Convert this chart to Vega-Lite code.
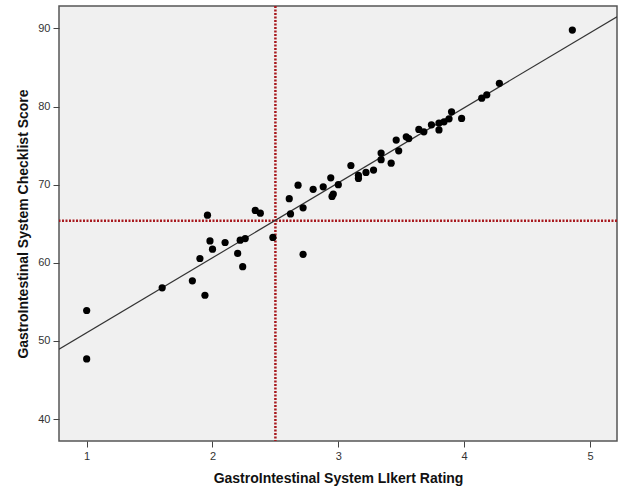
{
  "$schema": "https://vega.github.io/schema/vega-lite/v6.json",
  "autosize": {"type": "none"},
  "width": 558,
  "height": 435,
  "padding": {"left": 59, "top": 6, "right": 6, "bottom": 50},
  "background": "white",
  "config": {
    "view": {"fill": "#F0F0F0", "stroke": "#555555", "strokeWidth": 1.5},
    "font": "Liberation Sans",
    "axis": {
      "grid": false,
      "domain": false,
      "tickColor": "#444444",
      "tickSize": 6,
      "tickWidth": 1,
      "labelFont": "Liberation Sans",
      "labelFontSize": 11,
      "labelColor": "#333333",
      "labelPadding": 3,
      "titleFont": "Liberation Sans",
      "titleFontSize": 14,
      "titleFontWeight": "bold",
      "titleColor": "#111111"
    }
  },
  "datasets": {
    "points": [
      {"rating": 1.00, "score": 53.9},
      {"rating": 1.00, "score": 47.7},
      {"rating": 1.60, "score": 56.8},
      {"rating": 1.84, "score": 57.7},
      {"rating": 1.90, "score": 60.55},
      {"rating": 1.94, "score": 55.85},
      {"rating": 1.96, "score": 66.1},
      {"rating": 1.98, "score": 62.8},
      {"rating": 2.00, "score": 61.75},
      {"rating": 2.10, "score": 62.6},
      {"rating": 2.20, "score": 61.2},
      {"rating": 2.22, "score": 62.9},
      {"rating": 2.24, "score": 59.5},
      {"rating": 2.26, "score": 63.1},
      {"rating": 2.34, "score": 66.7},
      {"rating": 2.38, "score": 66.35},
      {"rating": 2.48, "score": 63.25},
      {"rating": 2.61, "score": 68.2},
      {"rating": 2.62, "score": 66.25},
      {"rating": 2.68, "score": 69.94},
      {"rating": 2.72, "score": 67.03},
      {"rating": 2.72, "score": 61.08},
      {"rating": 2.80, "score": 69.4},
      {"rating": 2.88, "score": 69.72},
      {"rating": 2.94, "score": 70.87},
      {"rating": 2.95, "score": 68.5},
      {"rating": 2.96, "score": 68.8},
      {"rating": 3.00, "score": 70.0},
      {"rating": 3.10, "score": 72.45},
      {"rating": 3.16, "score": 70.8},
      {"rating": 3.16, "score": 71.2},
      {"rating": 3.22, "score": 71.56},
      {"rating": 3.28, "score": 71.86},
      {"rating": 3.34, "score": 74.04},
      {"rating": 3.34, "score": 73.2},
      {"rating": 3.42, "score": 72.75},
      {"rating": 3.46, "score": 75.7},
      {"rating": 3.48, "score": 74.33},
      {"rating": 3.54, "score": 76.12},
      {"rating": 3.56, "score": 75.9},
      {"rating": 3.64, "score": 77.07},
      {"rating": 3.68, "score": 76.76},
      {"rating": 3.74, "score": 77.65},
      {"rating": 3.80, "score": 77.0},
      {"rating": 3.80, "score": 77.88},
      {"rating": 3.84, "score": 78.04},
      {"rating": 3.88, "score": 78.42},
      {"rating": 3.90, "score": 79.33},
      {"rating": 3.98, "score": 78.48},
      {"rating": 4.14, "score": 81.07},
      {"rating": 4.18, "score": 81.5},
      {"rating": 4.28, "score": 82.96},
      {"rating": 4.86, "score": 89.78}
    ],
    "fit": [
      {"rating": 0.78, "score": 48.94},
      {"rating": 5.215, "score": 91.49}
    ],
    "refx": [{"rating": 2.5}],
    "refy": [{"score": 65.37}]
  },
  "layer": [
    {
      "data": {"name": "refx"},
      "mark": {"type": "rule", "color": "#A8191E", "strokeWidth": 2.5, "strokeDash": [2, 1.5]},
      "encoding": {
        "x": {"field": "rating", "type": "quantitative",
          "scale": {"domain": [0.78, 5.215], "nice": false, "zero": false},
          "axis": {"values": [1, 2, 3, 4, 5], "format": "d", "title": "GastroIntestinal System LIkert Rating", "titlePadding": 10}}
      }
    },
    {
      "data": {"name": "refy"},
      "mark": {"type": "rule", "color": "#A8191E", "strokeWidth": 2.5, "strokeDash": [2, 1.5]},
      "encoding": {
        "y": {"field": "score", "type": "quantitative",
          "scale": {"domain": [37.2, 92.86], "nice": false, "zero": false},
          "axis": {"values": [40, 50, 60, 70, 80, 90], "format": "d", "title": "GastroIntestinal System Checklist Score", "titlePadding": 7}}
      }
    },
    {
      "data": {"name": "fit"},
      "mark": {"type": "line", "color": "#333333", "strokeWidth": 1.2, "clip": true},
      "encoding": {
        "x": {"field": "rating", "type": "quantitative"},
        "y": {"field": "score", "type": "quantitative"}
      }
    },
    {
      "data": {"name": "points"},
      "mark": {"type": "circle", "color": "black", "opacity": 1, "size": 52},
      "encoding": {
        "x": {"field": "rating", "type": "quantitative"},
        "y": {"field": "score", "type": "quantitative"}
      }
    }
  ]
}
